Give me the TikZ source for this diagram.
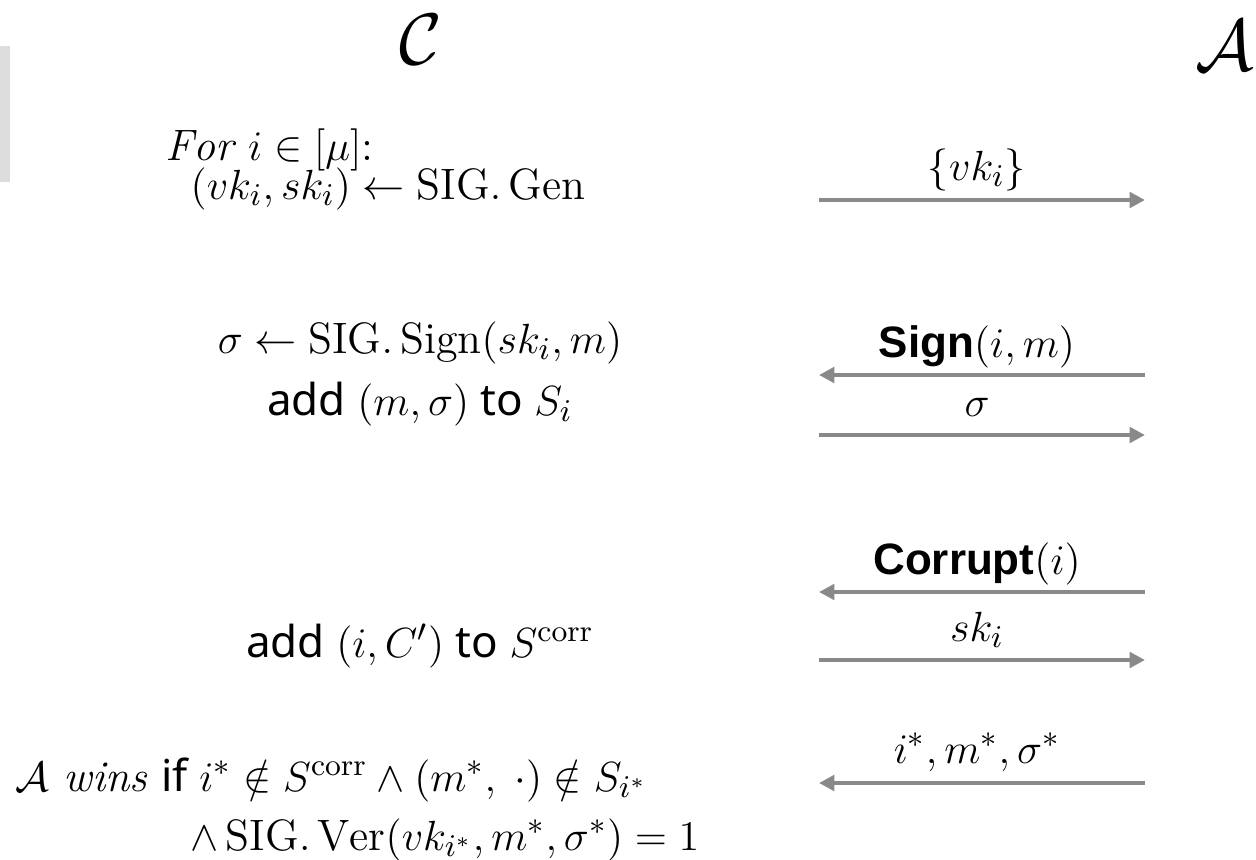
\documentclass[tikz,border=0pt]{standalone}
\usepackage{amsmath}
\usepackage{amssymb}
\usepackage{fontspec}
\setsansfont{Noto Sans}
\newfontfamily\msgfont{Liberation Sans}
\usepackage{tikz}
\usetikzlibrary{arrows.meta, positioning}

\definecolor{msggray}{RGB}{137,137,137}
\definecolor{tabgray}{RGB}{221,221,221}

\tikzset{
	msg/.style={draw=msggray, line width=1.15pt, -{Triangle[length=4.4pt, width=4.4pt]}},
	party/.style={font=\fontsize{20}{24}\selectfont, inner sep=0pt},
	txt/.style={font=\fontsize{12.5}{15}\selectfont, inner sep=0pt, anchor=base},
	txtl/.style={txt, anchor=base west},
}

\begin{document}
\begin{tikzpicture}[x=0.01cm, y=-0.01cm]
				\useasboundingbox (0, 0) rectangle (1256, 860);
				% Paths, nodes and wires:
				\fill[tabgray] (0, 46) rectangle (10, 182);
				\node[party](C) at (421, 40){$\mathcal{C}$};
				\node[party](A) at (1225, 46){$\mathcal{A}$};
				% setup
				\node[txtl](T1) at (165, 160){$\mathit{For}\ i \in [\mu]$:};
				\node[txtl](T2) at (190, 199){$(vk_i, sk_i) \leftarrow \mathrm{SIG.\,Gen}$};
				\coordinate (L1) at (819, 200);
				\coordinate (R1) at (1145, 200);
				\draw[msg] (L1) -- (R1);
				\node[txt](M1) at (977, 180){$\{vk_i\}$};
				% signing
				\node[txt](T3) at (420, 353){$\sigma \leftarrow \mathrm{SIG.\,Sign}(sk_i, m)$};
				\node[txt](T4) at (420, 415){\sffamily add $(m, \sigma)$ to $S_i$};
				\coordinate (L2) at (819, 375);
				\coordinate (R2) at (1145, 375);
				\coordinate (L3) at (819, 435);
				\coordinate (R3) at (1145, 435);
				\draw[msg] (R2) -- (L2);
				\draw[msg] (L3) -- (R3);
				\node[txt](M2) at (977, 357){\msgfont\bfseries Sign$(i, m)$};
				\node[txt](M3) at (977, 416){$\sigma$};
				% corruption
				\node[txt](T5) at (420, 657){\sffamily add $(i, C')$ to $S^{\mathrm{corr}}$};
				\coordinate (L4) at (819, 592);
				\coordinate (R4) at (1145, 592);
				\coordinate (L5) at (819, 660);
				\coordinate (R5) at (1145, 660);
				\draw[msg] (R4) -- (L4);
				\draw[msg] (L5) -- (R5);
				\node[txt](M4) at (977, 574){\msgfont\bfseries Corrupt$(i)$};
				\node[txt](M5) at (977, 641){$sk_i$};
				% forgery
				\coordinate (L6) at (819, 783);
				\coordinate (R6) at (1145, 783);
				\draw[msg] (R6) -- (L6);
				\node[txt](M6) at (977, 763){$i^*, m^*, \sigma^*$};
				\node[txtl](T6) at (15, 791){$\mathcal{A}\ \mathit{wins}$ \sffamily if $i^* \notin S^{\mathrm{corr}} \wedge (m^*,\ \cdot) \notin S_{i^*}$};
				\node[txtl](T7) at (190, 850){$\wedge\, \mathrm{SIG.\,Ver}(vk_{i^*}, m^*, \sigma^*) = 1$};
			\end{tikzpicture}
\end{document}
